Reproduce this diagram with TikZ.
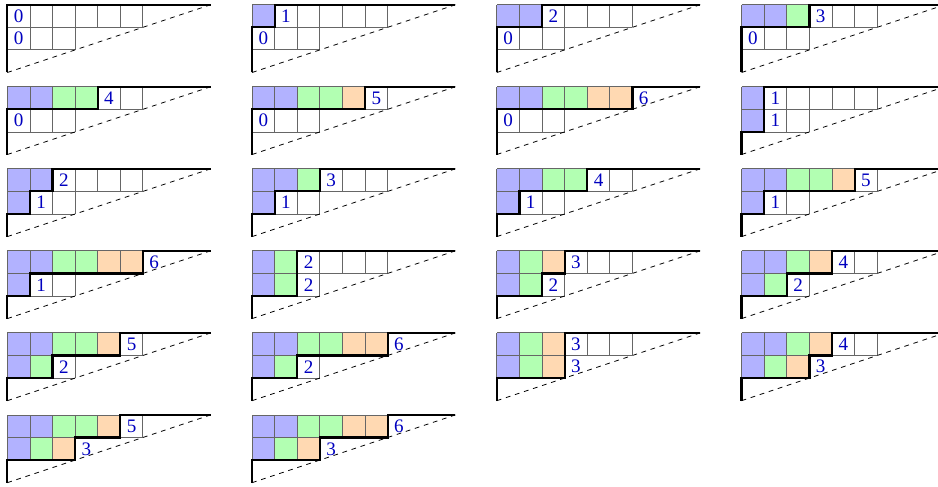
\documentclass[tikz,border=0pt]{standalone}
\usepackage{fontspec}
\setmainfont{Liberation Serif}

\begin{document}
\begin{tikzpicture}[x=0.5cm,y=0.5cm,
    cellgrid/.style={draw=black!60,line width=0.5pt,step=1},
    pathline/.style={line width=1.4pt},
    digit/.style={text=blue!75!black,font=\fontsize{12}{14}\selectfont,inner sep=0pt}]
  \useasboundingbox (-0.323,0.208) rectangle (41.18,-21.34);
  \foreach \pa/\pb/\pc/\qa/\qb/\qc [count=\k from 0] in {
      0/0/0/0/0/0, 1/0/0/0/0/0, 2/0/0/0/0/0, 2/1/0/0/0/0,
      2/2/0/0/0/0, 2/2/1/0/0/0, 2/2/2/0/0/0, 1/0/0/1/0/0,
      2/0/0/1/0/0, 2/1/0/1/0/0, 2/2/0/1/0/0, 2/2/1/1/0/0,
      2/2/2/1/0/0, 1/1/0/1/1/0, 1/1/1/1/1/0, 2/1/1/1/1/0,
      2/2/1/1/1/0, 2/2/2/1/1/0, 1/1/1/1/1/1, 2/1/1/1/1/1,
      2/2/1/1/1/1, 2/2/2/1/1/1} {
    \pgfmathtruncatemacro\col{mod(\k,4)}
    \pgfmathtruncatemacro\row{floor(\k/4)}
    \pgfmathtruncatemacro\la{\pa+\pb+\pc}
    \pgfmathtruncatemacro\lb{\qa+\qb+\qc}
    \begin{scope}[shift={(10.83*\col,-3.63*\row)}]
      \fill[blue!30] (0,0) rectangle (\pa,-1);
      \fill[green!30] (\pa,0) rectangle (\pa+\pb,-1);
      \fill[orange!30] (\pa+\pb,0) rectangle (\la,-1);
      \fill[blue!30] (0,-1) rectangle (\qa,-2);
      \fill[green!30] (\qa,-1) rectangle (\qa+\qb,-2);
      \fill[orange!30] (\qa+\qb,-1) rectangle (\lb,-2);
      \draw[cellgrid] (0,-1) grid (6,0);
      \draw[cellgrid] (0,-2) grid (3,-1);
      \draw[dashed,line width=0.5pt] (0,-3) -- (9,0);
      \draw[pathline] (0,-3) |- (\lb,-2) |- (\la,-1) |- (9,0);
      \node[digit] (top\k) at (\la+0.5,-0.5) {\la};
      \node[digit] (bot\k) at (\lb+0.5,-1.5) {\lb};
    \end{scope}
  }
\end{tikzpicture}
\end{document}
